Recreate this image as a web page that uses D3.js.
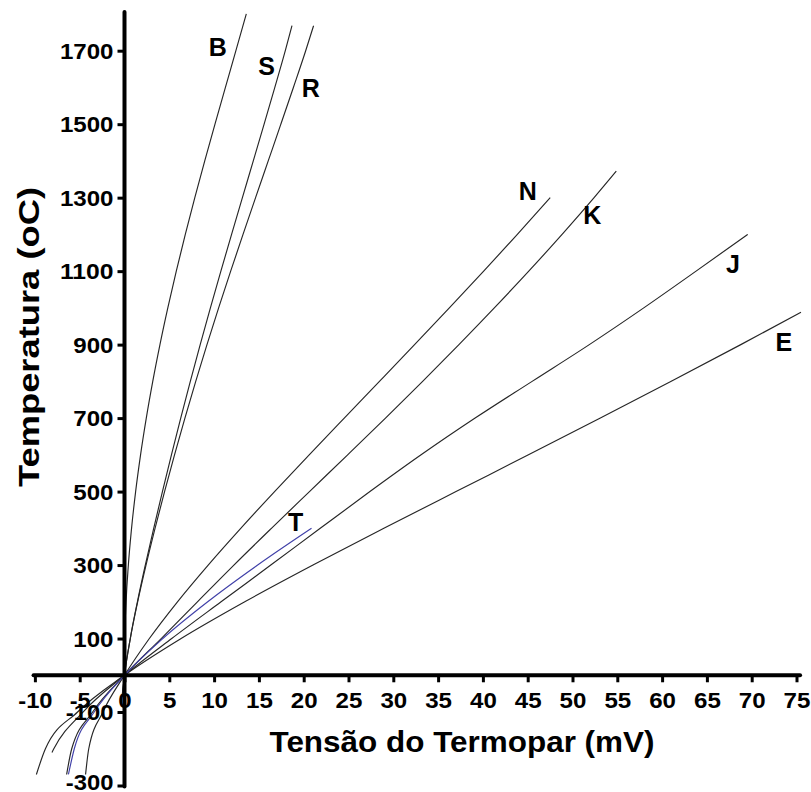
<!DOCTYPE html>
<html>
<head>
<meta charset="utf-8">
<script src="https://cdnjs.cloudflare.com/ajax/libs/d3/7.8.5/d3.min.js"></script>
<style>
body { margin: 0; background: #fff; }
svg { display: block; font-family: "Liberation Sans", Arial, sans-serif; }
.curve { fill: none; stroke: #262626; stroke-width: 1.15; }
.curve.typeT { stroke: #4040a8; }
.tick text { font-weight: bold; font-size: 22px; fill: #000; }
.tick line { stroke: #000; stroke-width: 3; }
.axisLine { stroke: #000; stroke-width: 4; stroke-linecap: round; }
.lbl { font-weight: bold; font-size: 25px; fill: #000; }
.title { font-weight: bold; font-size: 29px; fill: #000; }
</style>
</head>
<body>
<div id="chart"></div>
<script>
// thermocouple curves: [mV, oC]
var typeB = [[0,0],[0.033,100],[0.178,200],[0.431,300],[0.787,400],[1.242,500],[1.792,600],[2.431,700],[3.154,800],[3.957,900],[4.834,1000],[5.780,1100],[6.786,1200],[7.848,1300],[8.956,1400],[10.099,1500],[11.263,1600],[12.433,1700],[13.591,1800]];
var typeS = [[-0.236,-50],[0,0],[0.646,100],[1.441,200],[2.323,300],[3.259,400],[4.233,500],[5.239,600],[6.275,700],[7.345,800],[8.449,900],[9.587,1000],[10.757,1100],[11.951,1200],[13.159,1300],[14.373,1400],[15.582,1500],[16.777,1600],[17.947,1700],[18.693,1768]];
var typeR = [[-0.226,-50],[0,0],[0.647,100],[1.469,200],[2.401,300],[3.408,400],[4.471,500],[5.583,600],[6.743,700],[7.950,800],[9.205,900],[10.506,1000],[11.850,1100],[13.228,1200],[14.629,1300],[16.040,1400],[17.451,1500],[18.849,1600],[20.222,1700],[21.101,1768]];
var typeN = [[-4.345,-270],[-3.990,-200],[-2.407,-100],[0,0],[2.774,100],[5.913,200],[9.341,300],[12.974,400],[16.748,500],[20.613,600],[24.527,700],[28.455,800],[32.371,900],[36.256,1000],[40.087,1100],[43.846,1200],[47.513,1300]];
var typeK = [[-6.458,-270],[-5.891,-200],[-3.554,-100],[0,0],[4.096,100],[8.138,200],[12.209,300],[16.397,400],[20.644,500],[24.905,600],[29.129,700],[33.275,800],[37.326,900],[41.276,1000],[45.119,1100],[48.838,1200],[52.410,1300],[54.886,1372]];
var typeJ = [[-8.095,-210],[-7.890,-200],[-4.633,-100],[0,0],[5.269,100],[10.779,200],[16.327,300],[21.848,400],[27.393,500],[33.102,600],[39.132,700],[45.494,800],[51.877,900],[57.953,1000],[63.792,1100],[69.553,1200]];
var typeE = [[-9.835,-270],[-8.825,-200],[-5.237,-100],[0,0],[6.319,100],[13.421,200],[21.036,300],[28.946,400],[36.999,500],[45.085,600],[53.110,700],[61.022,800],[68.783,900],[75.5,988]];
var typeT = [[-6.258,-270],[-5.603,-200],[-3.379,-100],[0,0],[4.279,100],[9.288,200],[14.862,300],[20.872,400]];

var tcNames = ['B','S','R','N','K','J','E','T'];
var tcSeries = [typeB, typeS, typeR, typeN, typeK, typeJ, typeE, typeT];
// where the letter sits, [mV, oC]
var labelMv   = [10.4, 15.85, 20.8, 45.0, 52.2, 67.9, 73.6, 19.1];
var labelTemp = [1709, 1658, 1598, 1318, 1254, 1119, 906, 417];

var xTicks = [-10,-5,0,5,10,15,20,25,30,35,40,45,50,55,60,65,70,75];
var yTicks = [-300,-100,100,300,500,700,900,1100,1300,1500,1700];

var width = 811, height = 792;

var x = d3.scaleLinear().domain([-10, 75]).range([34.9, 796.5]);
var y = d3.scaleLinear().domain([-300, 1700]).range([785.5, 50.7]);

var svg = d3.select('#chart').append('svg')
  .attr('width', width)
  .attr('height', height);

var line = d3.line()
  .x(function(d) { return x(d[0]); })
  .y(function(d) { return y(d[1]); })
  .curve(d3.curveMonotoneX);

// curves
svg.append('g').selectAll('path')
  .data(tcSeries)
  .enter().append('path')
  .attr('class', function(d, i) { return 'curve type' + tcNames[i]; })
  .attr('d', line);

// curve letters
svg.append('g').selectAll('text')
  .data(tcNames)
  .enter().append('text')
  .attr('class', 'lbl')
  .attr('text-anchor', 'middle')
  .attr('dy', '0.36em')
  .attr('x', function(d, i) { return x(labelMv[i]); })
  .attr('y', function(d, i) { return y(labelTemp[i]); })
  .text(function(d) { return d; });

// plain hyphen for negatives, like the original
var fmt = function(d) { return String(d); };
// labels in the original are a little wider than Arial
var labelWidth = function(d) {
  var s = String(d);
  return d < 0 ? (s.length - 1) * 13.4 + 7.5 : s.length * 13.4;
};

// axes through the origin
var xAxis = svg.append('g')
  .attr('transform', 'translate(0,' + y(0) + ')')
  .call(d3.axisBottom(x).tickValues(xTicks).tickSize(7).tickPadding(10).tickFormat(fmt));
xAxis.select('.domain').remove();

var yAxis = svg.append('g')
  .attr('transform', 'translate(' + x(0) + ',0)')
  .call(d3.axisLeft(y).tickValues(yTicks).tickSize(7).tickPadding(4).tickFormat(fmt));
yAxis.select('.domain').remove();
// bottom label sits a bit higher, it touches the page edge
yAxis.selectAll('.tick text').attr('dy', function(d) { return d === -300 ? '0.16em' : '0.34em'; });

svg.selectAll('.tick text')
  .attr('fill', '#000')
  .attr('textLength', labelWidth)
  .attr('lengthAdjust', 'spacingAndGlyphs');

svg.append('line').attr('class', 'axisLine')
  .attr('x1', x(-10.15)).attr('x2', x(75.4))
  .attr('y1', y(0)).attr('y2', y(0));
svg.append('line').attr('class', 'axisLine')
  .attr('x1', x(0)).attr('x2', x(0))
  .attr('y1', y(1805)).attr('y2', y(-303));

// titles
svg.append('text')
  .attr('class', 'title')
  .attr('text-anchor', 'middle')
  .attr('x', 462).attr('y', 752)
  .attr('textLength', 385).attr('lengthAdjust', 'spacingAndGlyphs')
  .text('Tensão do Termopar (mV)');

svg.append('text')
  .attr('class', 'title')
  .attr('text-anchor', 'middle')
  .attr('transform', 'translate(39,337) rotate(-90)')
  .attr('textLength', 300).attr('lengthAdjust', 'spacingAndGlyphs')
  .text('Temperatura (oC)');
</script>
</body>
</html>
